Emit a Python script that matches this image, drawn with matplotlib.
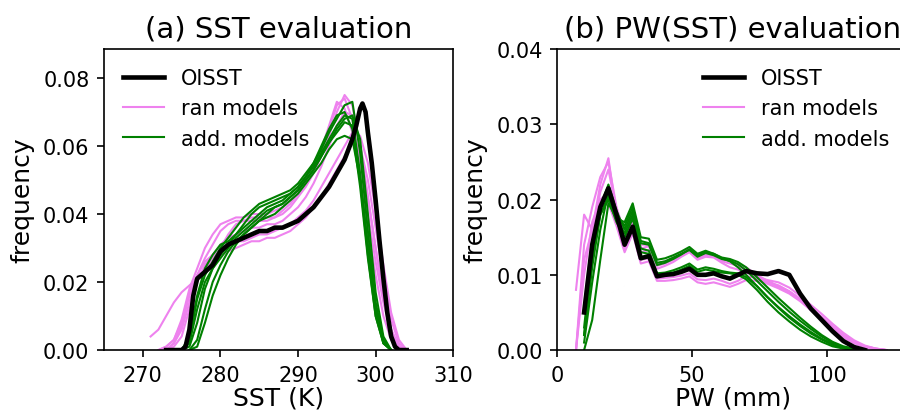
import numpy as np
import matplotlib
matplotlib.use("Agg")
import matplotlib.pyplot as plt

nan = np.nan

# ---------------- SST distributions (K) ----------------
sst_obs_t = [273, 274, 275, 275.5, 276, 276.5, 277, 278, 279, 280, 281, 282, 283, 284,
             285, 286, 287, 288, 289, 290, 291, 292, 293, 294, 295, 296, 297, 297.5,
             298, 298.3, 298.7, 299, 299.5, 300, 300.5, 301, 301.5, 302, 302.5, 303, 304]
sst_obs_f = [0, 0, 0, 0.001, 0.006, 0.016, 0.021, 0.023, 0.025, 0.029, 0.031, 0.032, 0.033,
             0.034, 0.035, 0.035, 0.036, 0.036, 0.037, 0.038, 0.040, 0.042, 0.045, 0.048,
             0.052, 0.056, 0.062, 0.066, 0.071, 0.0725, 0.070, 0.064, 0.055, 0.044, 0.032,
             0.021, 0.011, 0.004, 0.001, 0, 0]

sst_t = list(range(271, 305))  # 271 .. 304

sst_ran = [
    [0.004, 0.006, 0.010, 0.014, 0.017, 0.019, 0.021, 0.024, 0.027, 0.030, 0.034, 0.037,
     0.038, 0.039, 0.039, 0.039, 0.039, 0.040, 0.042, 0.045, 0.048, 0.052, 0.057, 0.063,
     0.070, 0.075, 0.072, 0.060, 0.045, 0.030, 0.016, 0.006, 0.001, 0.0],
    [nan, 0.000, 0.001, 0.003, 0.009, 0.018, 0.024, 0.030, 0.034, 0.037, 0.038, 0.039,
     0.039, 0.040, 0.040, 0.040, 0.041, 0.042, 0.044, 0.046, 0.049, 0.053, 0.058, 0.065,
     0.072, 0.074, 0.068, 0.055, 0.040, 0.026, 0.014, 0.005, 0.001, 0.0],
    [nan, 0.000, 0.001, 0.003, 0.008, 0.016, 0.021, 0.024, 0.026, 0.028, 0.029, 0.030,
     0.031, 0.032, 0.032, 0.033, 0.033, 0.034, 0.035, 0.037, 0.039, 0.042, 0.045, 0.049,
     0.053, 0.057, 0.061, 0.060, 0.050, 0.036, 0.021, 0.009, 0.002, 0.0],
    [nan, nan, 0.000, 0.002, 0.007, 0.017, 0.022, 0.026, 0.028, 0.030, 0.031, 0.032,
     0.032, 0.033, 0.034, 0.034, 0.035, 0.036, 0.037, 0.039, 0.041, 0.044, 0.048, 0.052,
     0.056, 0.060, 0.064, 0.063, 0.055, 0.041, 0.025, 0.011, 0.003, 0.0],
    [nan, nan, 0.000, 0.002, 0.006, 0.014, 0.022, 0.027, 0.031, 0.035, 0.037, 0.038,
     0.038, 0.038, 0.038, 0.038, 0.039, 0.041, 0.043, 0.046, 0.050, 0.054, 0.059, 0.066,
     0.073, 0.071, 0.064, 0.052, 0.037, 0.022, 0.010, 0.003, 0.0005, 0.0],
    [nan, nan, 0.000, 0.001, 0.004, 0.012, 0.020, 0.025, 0.028, 0.031, 0.033, 0.034,
     0.035, 0.036, 0.036, 0.037, 0.037, 0.038, 0.040, 0.042, 0.045, 0.049, 0.054, 0.060,
     0.066, 0.070, 0.069, 0.060, 0.045, 0.030, 0.016, 0.006, 0.001, 0.0],
]

sst_add = [
    [nan, nan, nan, nan, 0.000, 0.003, 0.015, 0.022, 0.026, 0.030, 0.033, 0.036, 0.039,
     0.041, 0.043, 0.044, 0.045, 0.046, 0.047, 0.049, 0.052, 0.055, 0.059, 0.064, 0.068,
     0.072, 0.073, 0.058, 0.035, 0.014, 0.003, 0.0, nan, nan],
    [nan, nan, nan, nan, 0.000, 0.001, 0.008, 0.018, 0.024, 0.028, 0.031, 0.034, 0.037,
     0.040, 0.042, 0.043, 0.044, 0.045, 0.046, 0.048, 0.051, 0.054, 0.058, 0.062, 0.066,
     0.069, 0.068, 0.052, 0.030, 0.012, 0.002, 0.0, nan, nan],
    [nan, nan, nan, nan, nan, 0.000, 0.001, 0.008, 0.016, 0.022, 0.027, 0.031, 0.034,
     0.036, 0.038, 0.040, 0.042, 0.043, 0.045, 0.047, 0.050, 0.053, 0.057, 0.061, 0.064,
     0.067, 0.066, 0.050, 0.028, 0.010, 0.002, 0.0, nan, nan],
    [nan, nan, nan, nan, nan, 0.000, 0.003, 0.012, 0.020, 0.025, 0.029, 0.032, 0.034,
     0.036, 0.038, 0.039, 0.040, 0.042, 0.044, 0.046, 0.049, 0.052, 0.055, 0.059, 0.062,
     0.063, 0.062, 0.050, 0.031, 0.013, 0.003, 0.0, nan, nan],
    [nan, nan, nan, nan, 0.000, 0.004, 0.016, 0.024, 0.028, 0.031, 0.032, 0.034, 0.036,
     0.038, 0.040, 0.042, 0.043, 0.044, 0.046, 0.048, 0.051, 0.055, 0.060, 0.065, 0.069,
     0.070, 0.065, 0.048, 0.027, 0.010, 0.002, 0.0, nan, nan],
    [nan, nan, nan, nan, 0.000, 0.002, 0.012, 0.020, 0.024, 0.027, 0.030, 0.033, 0.035,
     0.037, 0.039, 0.041, 0.042, 0.043, 0.045, 0.047, 0.050, 0.053, 0.057, 0.061, 0.065,
     0.068, 0.069, 0.062, 0.040, 0.017, 0.004, 0.0, nan, nan],
]

# ---------------- PW(SST) distributions (mm) ----------------
pw = [7, 10, 13, 16, 19, 22, 25, 28, 31, 34, 37, 40, 43, 46, 49, 52, 55, 58, 61, 64,
      67, 70, 74, 78, 82, 86, 90, 94, 98, 102, 106, 110, 114, 118, 122]

pw_obs = [nan, 0.005, 0.014, 0.019, 0.0215, 0.018, 0.014, 0.0164, 0.0122, 0.0125, 0.0098,
          0.0100, 0.0101, 0.0104, 0.0108, 0.0100, 0.0100, 0.0102, 0.0098, 0.0095, 0.0100,
          0.0105, 0.0102, 0.0101, 0.0105, 0.0100, 0.0075, 0.0055, 0.0040, 0.0025, 0.0012,
          0.0004, 0.0, nan, nan]

pw_ran = [
    [0.008, 0.018, 0.016, 0.022, 0.0255, 0.018, 0.0150, 0.0175, 0.0140, 0.0140, 0.0115,
     0.0118, 0.0122, 0.0128, 0.0135, 0.0125, 0.0128, 0.0127, 0.0118, 0.0115, 0.0112,
     0.0105, 0.0095, 0.0088, 0.0082, 0.0075, 0.0065, 0.0053, 0.0040, 0.0028, 0.0017,
     0.0009, 0.0004, 0.0001, 0.0],
    [0.0, 0.014, 0.019, 0.023, 0.025, 0.019, 0.0155, 0.018, 0.0135, 0.0138, 0.0112,
     0.0115, 0.0120, 0.0126, 0.0132, 0.0122, 0.0126, 0.0125, 0.0120, 0.0118, 0.0115,
     0.0110, 0.0100, 0.0092, 0.0085, 0.0078, 0.0068, 0.0056, 0.0043, 0.0031, 0.0020,
     0.0011, 0.0005, 0.0002, 0.0],
    [0.0, 0.012, 0.016, 0.019, 0.0195, 0.0165, 0.0130, 0.0155, 0.0115, 0.0118, 0.0092,
     0.0092, 0.0093, 0.0095, 0.0098, 0.0090, 0.0088, 0.0090, 0.0087, 0.0084, 0.0088,
     0.0093, 0.0092, 0.0090, 0.0086, 0.0078, 0.0068, 0.0056, 0.0044, 0.0032, 0.0020,
     0.0011, 0.0005, 0.0002, 0.0],
    [0.0, 0.010, 0.017, 0.020, 0.021, 0.017, 0.0135, 0.016, 0.0120, 0.0122, 0.0095,
     0.0096, 0.0097, 0.0099, 0.0102, 0.0094, 0.0093, 0.0095, 0.0092, 0.0088, 0.0092,
     0.0098, 0.0096, 0.0093, 0.0090, 0.0083, 0.0072, 0.0060, 0.0048, 0.0035, 0.0023,
     0.0013, 0.0006, 0.0002, 0.0],
    [nan, 0.006, 0.015, 0.021, 0.024, 0.0185, 0.0145, 0.017, 0.0130, 0.0133, 0.0108,
     0.0112, 0.0117, 0.0124, 0.0130, 0.0120, 0.0124, 0.0123, 0.0116, 0.0110, 0.0107,
     0.0103, 0.0097, 0.0090, 0.0084, 0.0077, 0.0067, 0.0055, 0.0042, 0.0030, 0.0019,
     0.0010, 0.0004, 0.0001, 0.0],
]

pw_add = [
    [nan, 0.0, 0.004, 0.012, 0.0195, 0.0175, 0.0170, 0.0195, 0.0150, 0.0148, 0.0120,
     0.0122, 0.0126, 0.0131, 0.0137, 0.0128, 0.0132, 0.0128, 0.0122, 0.0118, 0.0110,
     0.0100, 0.0085, 0.0070, 0.0057, 0.0045, 0.0034, 0.0024, 0.0015, 0.0008, 0.0003,
     0.0, nan, nan, nan],
    [nan, 0.001, 0.009, 0.016, 0.021, 0.018, 0.0165, 0.0190, 0.0145, 0.0142, 0.0116,
     0.0118, 0.0123, 0.0128, 0.0133, 0.0124, 0.0129, 0.0126, 0.0121, 0.0119, 0.0114,
     0.0106, 0.0092, 0.0078, 0.0064, 0.0051, 0.0039, 0.0028, 0.0018, 0.0010, 0.0004,
     0.0001, 0.0, nan, nan],
    [nan, 0.002, 0.012, 0.018, 0.0205, 0.0175, 0.0155, 0.0180, 0.0135, 0.0132, 0.0102,
     0.0103, 0.0106, 0.0110, 0.0115, 0.0107, 0.0110, 0.0108, 0.0105, 0.0103, 0.0102,
     0.0097, 0.0085, 0.0070, 0.0056, 0.0043, 0.0032, 0.0022, 0.0014, 0.0007, 0.0003,
     0.0001, 0.0, nan, nan],
    [nan, 0.002, 0.011, 0.018, 0.020, 0.017, 0.0150, 0.0175, 0.0130, 0.0128, 0.0100,
     0.0101, 0.0103, 0.0107, 0.0112, 0.0104, 0.0107, 0.0105, 0.0103, 0.0102, 0.0100,
     0.0094, 0.0080, 0.0064, 0.0050, 0.0038, 0.0027, 0.0018, 0.0011, 0.0005, 0.0002,
     0.0, nan, nan, nan],
    [nan, 0.003, 0.013, 0.019, 0.022, 0.0185, 0.016, 0.0185, 0.0142, 0.0140, 0.0113,
     0.0116, 0.0121, 0.0127, 0.0134, 0.0126, 0.0130, 0.0128, 0.0123, 0.0121, 0.0117,
     0.0110, 0.0097, 0.0083, 0.0069, 0.0056, 0.0043, 0.0031, 0.0020, 0.0011, 0.0005,
     0.0002, 0.0, nan, nan],
]

sst_ticks = [270, 280, 290, 300, 310]
pw_ticks = [0, 50, 100]

plt.rcParams['font.family'] = ['DejaVu Sans']
plt.rcParams['font.size'] = 10

fig = plt.figure(figsize=(6, 2.76), dpi=150)
ax1 = fig.add_axes([0.1156, 0.152, 0.388, 0.727])
ax2 = fig.add_axes([0.619, 0.152, 0.39, 0.727])

RAN_C = 'violet'
ADD_C = 'green'

# (a) SST
for f in sst_ran:
    ax1.plot(sst_t, f, color=RAN_C, lw=1)
for f in sst_add:
    ax1.plot(sst_t, f, color=ADD_C, lw=1)
h_obs, = ax1.plot(sst_obs_t, sst_obs_f, color='black', lw=2.2)
h_ran, = ax1.plot([], [], color=RAN_C, lw=1)
h_add, = ax1.plot([], [], color=ADD_C, lw=1)
ax1.set_xlim(265, 310)
ax1.set_ylim(0, 0.0885)
ax1.set_xticks(sst_ticks)
ax1.set_yticks([0.0, 0.02, 0.04, 0.06, 0.08])
ax1.set_xlabel('SST (K)', fontsize=12, labelpad=0.5)
ax1.set_ylabel('frequency', fontsize=12)
ax1.set_title('(a) SST evaluation', fontsize=14)
ax1.legend([h_obs, h_ran, h_add], ['OISST', 'ran models', 'add. models'],
           loc='upper left', frameon=False)

# (b) PW(SST)
for f in pw_ran:
    ax2.plot(pw, f, color=RAN_C, lw=1)
for f in pw_add:
    ax2.plot(pw, f, color=ADD_C, lw=1)
g_obs, = ax2.plot(pw, pw_obs, color='black', lw=2.2)
ax2.set_xlim(0, 130)
ax2.set_ylim(0, 0.04)
ax2.set_xticks(pw_ticks)
ax2.set_yticks([0.0, 0.01, 0.02, 0.03, 0.04])
ax2.set_xlabel('PW (mm)', fontsize=12, labelpad=0.5)
ax2.set_ylabel('frequency', fontsize=12)
ax2.set_title('(b) PW(SST) evaluation', fontsize=14)
ax2.legend([g_obs, h_ran, h_add], ['OISST', 'ran models', 'add. models'],
           loc='upper right', frameon=False)

fig.savefig('out.png', dpi=150)
